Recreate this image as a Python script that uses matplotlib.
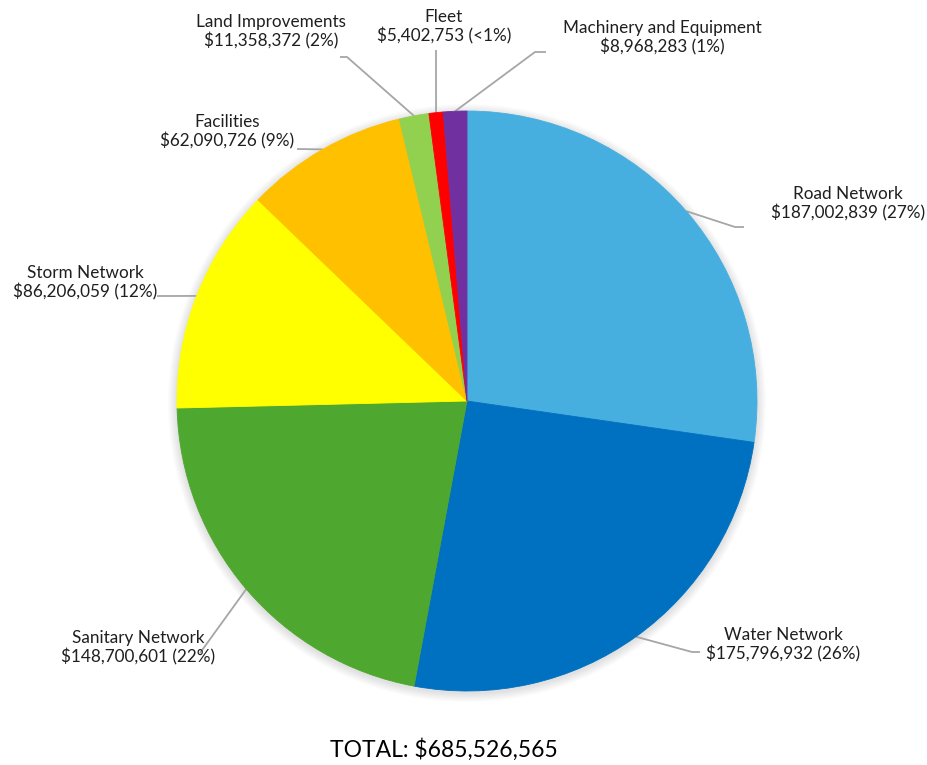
import numpy as np
import matplotlib
import matplotlib.pyplot as plt
from matplotlib.patches import Circle

matplotlib.rcParams["font.family"] = ["Lato", "DejaVu Sans"]

categories = ["Road Network", "Water Network", "Sanitary Network", "Storm Network",
              "Facilities", "Land Improvements", "Fleet", "Machinery and Equipment"]
values = [187002839, 175796932, 148700601, 86206059,
          62090726, 11358372, 5402753, 8968283]
pct_labels = ["27%", "26%", "22%", "12%", "9%", "2%", "<1%", "1%"]
colors = ["#47AEE0", "#0070C0", "#4EA72E", "#FFFF00",
          "#FFC000", "#92D050", "#FF0000", "#7030A0"]

W, H = 928, 765
cx, cy, r = 467, 401, 290


def Y(y):
    # pixel row -> axes y
    return H - y


fig = plt.figure(figsize=(W / 100, H / 100), dpi=100)
ax = fig.add_axes([0, 0, 1, 1])

# soft shadow under the pie
for i in range(10):
    ax.add_patch(Circle((cx, Y(cy + 2)), r + 1 + i * 0.9, color="k", alpha=0.012, lw=0, zorder=0))

wedges, _ = ax.pie(values, colors=colors, startangle=90, counterclock=False,
                   center=(cx, Y(cy)), radius=r, wedgeprops=dict(linewidth=0.6))
for w in wedges:
    w.set_edgecolor(w.get_facecolor())
    w.set_zorder(2)

# label anchor (elbow, end of leader) and text centre for each slice
elbows = [(735, 227), (692, 652), (200, 653), (175, 296),
          (297, 149), (347, 57), (436, 50), (535, 52)]
ends = [(744, 227), (700, 652), None, (157, 296),
        None, (340, 57), None, (546, 52)]
text_pos = [(848, 204), (783, 645), (138, 648), (85, 283),
            (227, 132), (271, 32), (444, 27), (662, 38)]

total = sum(values)
cum = np.cumsum([0] + values) / total
for i, name in enumerate(categories):
    mid = 0.5 * (cum[i] + cum[i + 1])
    ang = np.deg2rad(90 - 360 * mid)
    ex, ey = cx + r * np.cos(ang), Y(cy) + r * np.sin(ang)
    xs = [ex, elbows[i][0]]
    ys = [ey, Y(elbows[i][1])]
    if ends[i] is not None:
        xs.append(ends[i][0])
        ys.append(Y(ends[i][1]))
    ax.plot(xs, ys, color="#A6A6A6", lw=1.3, zorder=1, solid_capstyle="butt")
    label = f"{name}\n${values[i]:,} ({pct_labels[i]})"
    tx, ty = text_pos[i]
    ax.text(tx, Y(ty), label, ha="center", va="center", fontsize=12.3,
            color="#1f1f1f", linespacing=1.15, zorder=3)

ax.text(444, Y(750), f"TOTAL: ${total:,}", ha="center", va="center",
        fontsize=16.5, color="black")

ax.set_xlim(0, W)
ax.set_ylim(0, H)
ax.set_aspect("equal")
ax.axis("off")

plt.savefig("out.png", dpi=100, facecolor="white")
